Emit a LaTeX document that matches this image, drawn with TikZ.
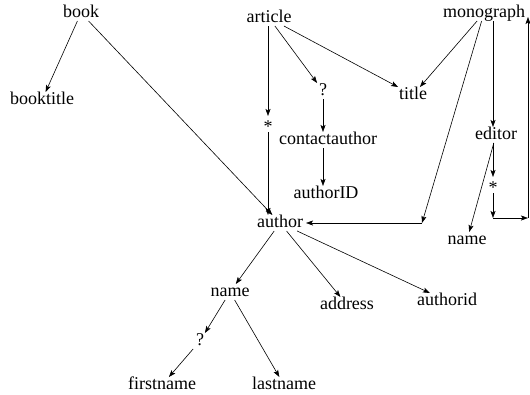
\documentclass[tikz,border=0pt]{standalone}
\usepackage{fontspec}
\setmainfont{Liberation Serif}
\usetikzlibrary{arrows.meta,positioning}

\begin{document}
\begin{tikzpicture}[
  x=1pt, y=-1pt,
  elem/.style={inner sep=2pt, outer sep=1pt, text height=0.9em, text depth=0.1em, font=\fontsize{18}{20}\selectfont},
  occ/.style={elem},
  link/.style={-{Stealth[length=7pt, width=5pt, inset=1.5pt]}, line width=0.6pt}
]
  \useasboundingbox (0,0) rectangle (530,394);

  % Top level elements
  \node[elem] (book) at (81,13) {book};
  \node[elem] (article) at (269,18) {article};
  \node[elem] (monograph) at (484,13) {monograph};

  % Children of book, article and monograph
  \node[elem] (booktitle) at (42,100) {booktitle};
  \node[elem] (title) at (413,95) {title};
  \node[occ] (artopt) at (323,91) {?};
  \node[occ] (artstar) at (268,124) {\raisebox{-0.25em}{*}};
  \node[elem] (contactauthor) at (328,140) {contactauthor};
  \node[elem] (cauthid) at (326,194) {authorID};
  \node[elem] (editor) at (496,135) {editor};
  \node[occ] (edstar) at (493,185) {\raisebox{-0.25em}{*}};
  \node[elem] (edname) at (467,240) {name};

  % Author subtree
  \node[elem] (author) at (280,223) {author};
  \node[elem] (authname) at (230,292) {name};
  \node[elem] (address) at (347,305) {address};
  \node[elem] (authid) at (447,301) {authorid};
  \node[occ] (nameopt) at (200,341) {?};
  \node[elem] (firstname) at (162,385) {firstname};
  \node[elem] (lastname) at (284,385) {lastname};

  % Bends
  \coordinate (monojoin) at (422,223);
  \coordinate (loopleft) at (493,218);
  \coordinate (loopright) at (528,218);

  % Arrows
  \draw[link] (book) -- (booktitle);
  \draw[link] (book) -- (author);
  \draw[link] (article.south -| artstar) -- (artstar);
  \draw[link] (artstar) -- (artstar |- author.north);
  \draw[link] (article) -- (artopt);
  \draw[link] (artopt) -- (artopt |- contactauthor.north);
  \draw[link] (contactauthor.south -| artopt) -- (artopt |- cauthid.north);
  \draw[link] (article) -- (title);
  \draw[link] (monograph) -- (title);
  \draw[link] (monograph) -- (monojoin);
  \draw[link] (monojoin) -- (author);
  \draw[link] (monograph.south -| edstar) -- (editor.north -| edstar);
  \draw[link] (editor) -- (edname);
  \draw[link] (editor.south -| edstar) -- (edstar);
  \draw[link] (edstar) -- (loopleft);
  \draw[link] (loopleft) -- (loopright);
  \draw[link] (loopright) -- (loopright |- monograph.base);
  \draw[link] (author) -- (authname);
  \draw[link] (author) -- (address);
  \draw[link] (author) -- (authid);
  \draw[link] (authname) -- (nameopt);
  \draw[link] (nameopt) -- (firstname);
  \draw[link] (authname) -- (lastname);
\end{tikzpicture}
\end{document}
